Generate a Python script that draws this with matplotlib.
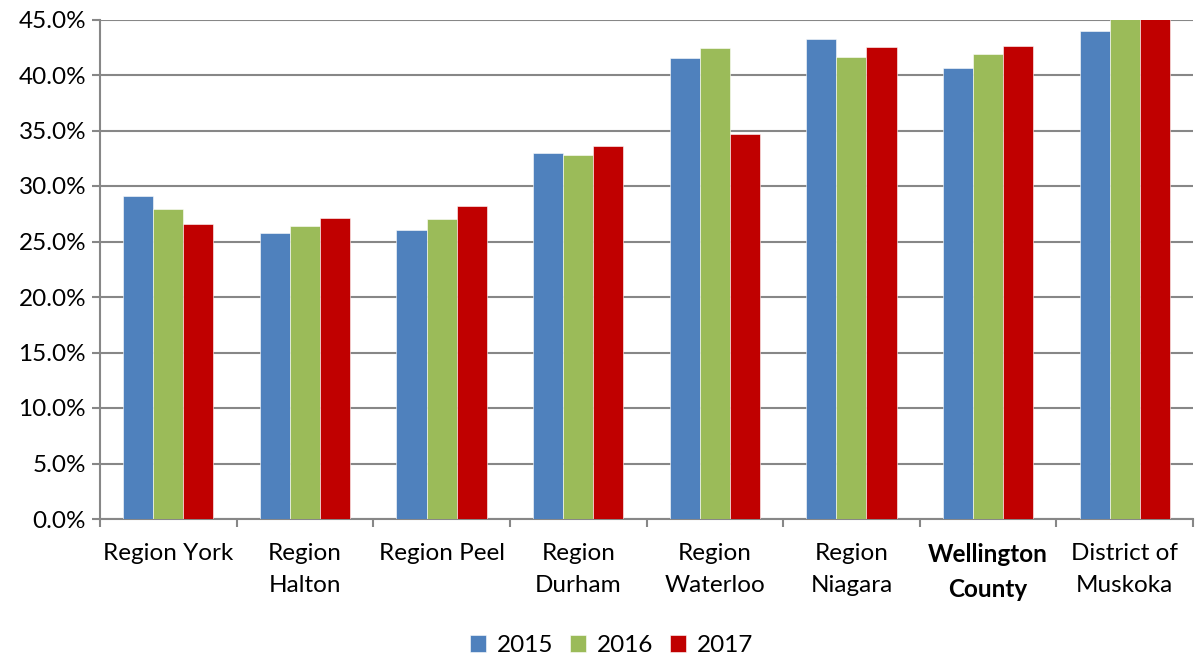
import numpy as np
import matplotlib.pyplot as plt
from matplotlib.ticker import PercentFormatter

regions = ["Region York", "Region\nHalton", "Region Peel", "Region\nDurham",
           "Region\nWaterloo", "Region\nNiagara", "Wellington\nCounty",
           "District of\nMuskoka"]
years = ["2015", "2016", "2017"]
v2015 = [29.1, 25.8, 26.0, 33.0, 41.5, 43.2, 40.6, 44.0]
v2016 = [27.9, 26.4, 27.0, 32.8, 42.4, 41.6, 41.9, 45.6]
v2017 = [26.6, 27.1, 28.2, 33.6, 34.7, 42.5, 42.6, 46.1]
colors = ["#4F81BD", "#9BBB59", "#C00000"]

plt.rcParams['font.family'] = ['Lato', 'DejaVu Sans']

fig = plt.figure(figsize=(11.95, 6.56), dpi=100)
ax = fig.add_axes([100/1195, 1 - 519/656, 1093/1195, 499.5/656])

x = np.arange(len(regions))
w = 0.22
for i, (vals, c, lab) in enumerate(zip([v2015, v2016, v2017], colors, years)):
    ax.bar(x + (i - 1) * w, vals, w, color=c, label=lab,
           edgecolor="white", linewidth=0.4, zorder=3)

ax.set_xlim(-0.5, len(regions) - 0.5)
ax.set_ylim(0, 45)
ax.set_yticks(np.arange(0, 46, 5))
ax.yaxis.set_major_formatter(PercentFormatter(decimals=1))
ax.grid(axis='y', color='#878787', linewidth=1.5, zorder=0)

# category boundaries get the tick marks, names sit in between
ax.set_xticks(np.arange(-0.5, len(regions), 1))
ax.set_xticklabels([])
ax.set_xticks(x, minor=True)
ax.set_xticklabels(regions, minor=True, fontsize=17.5, linespacing=1.65)
ax.tick_params(axis='x', which='minor', length=0, pad=17)
ax.tick_params(axis='x', which='major', length=6, width=1.5, color='#878787')
ax.tick_params(axis='y', length=6, width=1.5, color='#878787', labelsize=17.5,
               pad=4)
for lbl in ax.get_xticklabels(minor=True):
    if lbl.get_text().startswith("Wellington"):
        lbl.set_fontweight("bold")

for s in ['top', 'right']:
    ax.spines[s].set_visible(False)
for s in ['left', 'bottom']:
    ax.spines[s].set_color('#878787')
    ax.spines[s].set_linewidth(1.5)

ax.legend(loc='lower center', bbox_to_anchor=(0.468, -0.318), ncol=3,
          frameon=False, fontsize=17.5, handlelength=0.65, handleheight=0.65,
          handletextpad=0.45, columnspacing=0.7)

fig.savefig("out.png", dpi=100)
